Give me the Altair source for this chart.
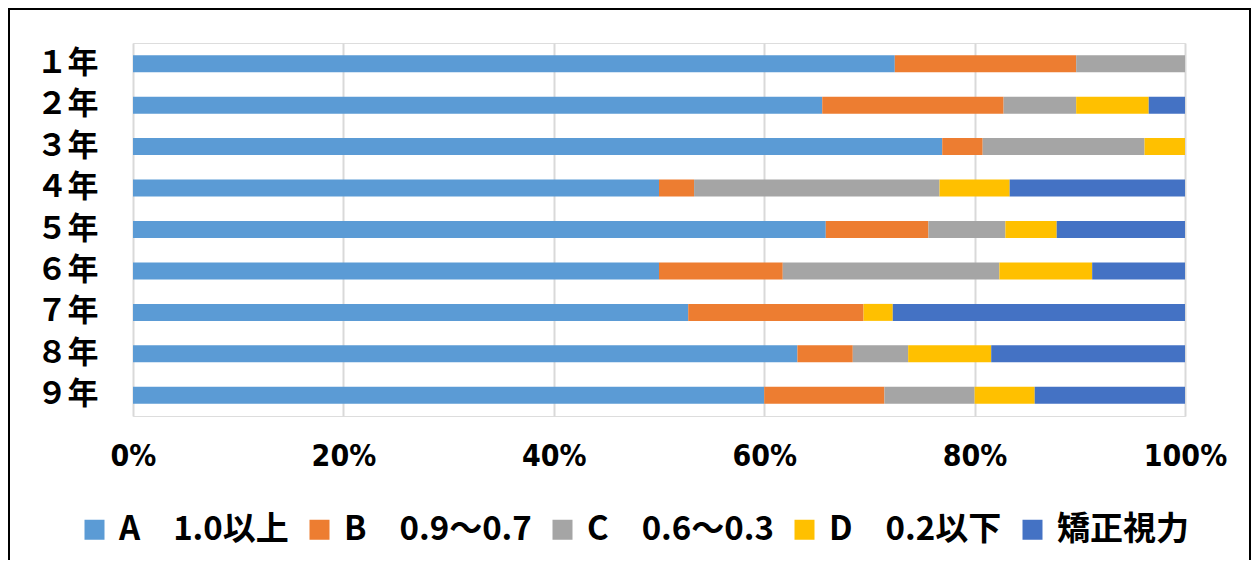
import altair as alt
import pandas as pd

years = ["１年", "２年", "３年", "４年", "５年", "６年", "７年", "８年", "９年"]
categories = ["A　1.0以上", "B　0.9～0.7", "C　0.6～0.3", "D　0.2以下", "矯正視力"]
colors = ["#5B9BD5", "#ED7D31", "#A5A5A5", "#FFC000", "#4472C4"]

a_vals = [21, 19, 20, 15, 27, 17, 19, 24, 21]
b_vals = [5, 5, 1, 1, 4, 4, 6, 2, 4]
c_vals = [3, 2, 4, 7, 3, 7, 0, 2, 3]
d_vals = [0, 2, 1, 2, 2, 3, 1, 3, 2]
e_vals = [0, 1, 0, 5, 5, 3, 10, 7, 5]

series = [a_vals, b_vals, c_vals, d_vals, e_vals]
rows = []
for ci, (cat, vals) in enumerate(zip(categories, series)):
    for y, v in zip(years, vals):
        rows.append({"year": y, "cat": cat, "order": ci, "value": v})
df = pd.DataFrame(rows)

FONT = "Noto Sans CJK JP"
NUMFONT = "Liberation Sans Narrow, DejaVu Sans Condensed, Liberation Sans, sans-serif"

bars = alt.Chart(df).mark_bar().encode(
    x=alt.X("value:Q", stack="normalize",
            scale=alt.Scale(domain=[0, 1], nice=False),
            axis=alt.Axis(title=None, format=".0%", values=[0, 0.2, 0.4, 0.6, 0.8, 1.0],
                          grid=True, gridColor="#d9d9d9", gridWidth=2,
                          domain=False, ticks=False, labelPadding=25, labelFlush=False,
                          labelFont=NUMFONT, labelFontSize=30, labelFontWeight="bold",
                          labelColor="black")),
    y=alt.Y("year:N", sort=years,
            scale=alt.Scale(paddingInner=0.59, paddingOuter=0.295),
            axis=alt.Axis(title=None, domain=False, ticks=False, grid=False,
                          labelPadding=35, labelFont=FONT, labelFontSize=31,
                          labelFontWeight="bold", labelColor="black")),
    color=alt.Color("cat:N", sort=categories,
                    scale=alt.Scale(domain=categories, range=colors),
                    legend=alt.Legend(title=None, orient="none", direction="horizontal",
                                      columns=5, legendX=-55, legendY=470,
                                      symbolType="square", symbolSize=400,
                                      symbolStrokeWidth=0, symbolOpacity=1,
                                      labelFont=FONT, labelFontSize=33,
                                      labelFontWeight="bold", labelColor="black",
                                      labelOffset=8, columnPadding=14, padding=0,
                                      labelLimit=400)),
    order=alt.Order("order:Q"),
)

frame = alt.Chart(pd.DataFrame({"f": [0]})).mark_rect(
    fill=None, stroke="black", strokeWidth=2, clip=False
).encode(
    x=alt.value(-124), x2=alt.value(1117), y=alt.value(-34), y2=alt.value(560)
)

chart = alt.layer(bars, frame).properties(
    width=1052, height=373,
    padding={"left": 125, "top": 35, "right": 67, "bottom": 144},
    autosize=alt.AutoSizeParams(type="none"),
).configure_view(stroke=None).configure(background="white")

chart.save("out.html", embed_options={"renderer": "svg", "actions": False})
